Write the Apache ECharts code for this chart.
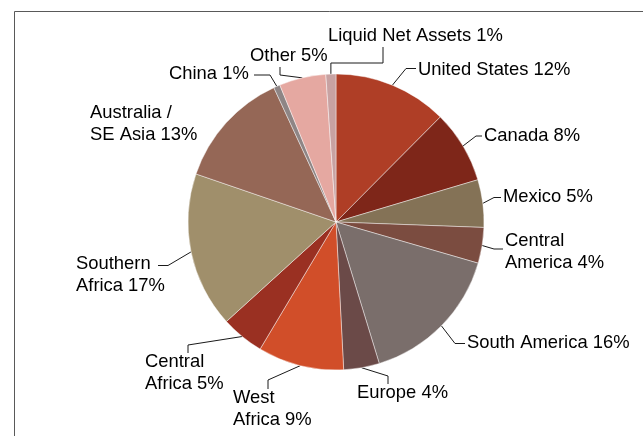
<!DOCTYPE html>
<html>
<head>
<meta charset="utf-8">
<script src="https://cdn.jsdelivr.net/npm/echarts@6/dist/echarts.min.js"></script>
<style>
  html, body { margin: 0; padding: 0; background: #ffffff; }
  #chart { width: 643px; height: 436px; }
</style>
</head>
<body>
<div id="chart"></div>
<script>
// ---- data (clockwise from 12 o'clock) ----
var categories = [
  'United States', 'Canada', 'Mexico', 'Central\nAmerica', 'South America',
  'Europe', 'West\nAfrica', 'Central\nAfrica', 'Southern\nAfrica',
  'Australia /\nSE Asia', 'China', 'Other', 'Liquid Net Assets'
];
var shares = [12.45, 7.95, 5.2, 3.9, 15.8, 3.9, 9.4, 4.7, 17.0, 12.85, 0.7, 5.1, 1.1];

// ---- styles ----
var sliceColors = [
  '#AF3E26', '#7E2619', '#847256', '#7B4C40', '#7A6E6B',
  '#6B4A48', '#D14E29', '#9A3022', '#A08F6B', '#956756',
  '#8E8585', '#E5A8A1', '#C8A2A2'
];

// label placement (left x, centre y) and leader attach point / elbow offset
var labelPlace = [
  { x: 418, y: 70,  a: [416, 68.5], e: [-10, 0] },
  { x: 484, y: 136, a: [482, 136],  e: [-6, 0] },
  { x: 503, y: 197, a: [501, 197.5], e: [-7, 0] },
  { x: 505, y: 252, a: [503, 249],  e: [-9, 0] },
  { x: 467, y: 343, a: [465, 343.5], e: [-10, 0] },
  { x: 357, y: 393, a: [388, 384],  e: [0, -8] },
  { x: 233, y: 409, a: [268, 389],  e: [0, -9] },
  { x: 145, y: 373, a: [188, 353],  e: [0, -8] },
  { x: 76,  y: 275, a: [158, 265.5], e: [10, 0] },
  { x: 90,  y: 124, a: null },
  { x: 169, y: 74,  a: [254, 75],   e: [16, 0] },
  { x: 250, y: 56,  a: [280, 67],   e: [0, 8] },
  { x: 328, y: 36,  a: [383, 47],   e: [0, 16], hook: true }
];

var total = shares.reduce(function (s, v) { return s + v; }, 0);

var pieData = categories.map(function (name, i) {
  var item = { name: name, value: shares[i], itemStyle: { color: sliceColors[i] } };
  if (!labelPlace[i].a) { item.labelLine = { show: false }; }
  return item;
});

var chart = echarts.init(document.getElementById('chart'), null, { renderer: 'canvas' });

chart.setOption({
  backgroundColor: '#ffffff',
  animation: false,
  graphic: [{
    type: 'rect',
    silent: true,
    z: -10,
    shape: { x: 14.5, y: 11.5, width: 700, height: 500 },
    style: { fill: 'none', stroke: '#595959', lineWidth: 1 }
  }],
  series: [{
    type: 'pie',
    center: [336, 222],
    radius: 148,
    startAngle: 90,
    clockwise: true,
    avoidLabelOverlap: false,
    data: pieData,
    itemStyle: { borderColor: 'rgba(255,255,255,0.55)', borderWidth: 0.8 },
    emphasis: { disabled: true },
    label: {
      show: true,
      position: 'outside',
      color: '#000000',
      fontFamily: '"Liberation Sans", Arial, sans-serif',
      fontSize: 18.4,
      lineHeight: 22,
      formatter: function (p) {
        return p.name + ' ' + Math.round(p.value / total * 100) + '%';
      }
    },
    labelLine: {
      show: true,
      length: 10,
      length2: 10,
      lineStyle: { color: '#1a1a1a', width: 1 }
    },
    labelLayout: function (p) {
      var L = labelPlace[p.dataIndex];
      var res = { x: L.x, y: L.y, align: 'left', verticalAlign: 'middle' };
      var pts = p.labelLinePoints;
      if (L.a && pts && pts.length) {
        var p0 = [pts[0][0], pts[0][1]];
        var a = L.a;
        var el = [a[0] + L.e[0], a[1] + L.e[1]];
        if (L.hook) {
          res.labelLinePoints = [p0, [p0[0], el[1]], el, [a[0], a[1]]];
        } else {
          res.labelLinePoints = [p0, el, [a[0], a[1]]];
        }
      }
      return res;
    }
  }]
});
</script>
</body>
</html>
